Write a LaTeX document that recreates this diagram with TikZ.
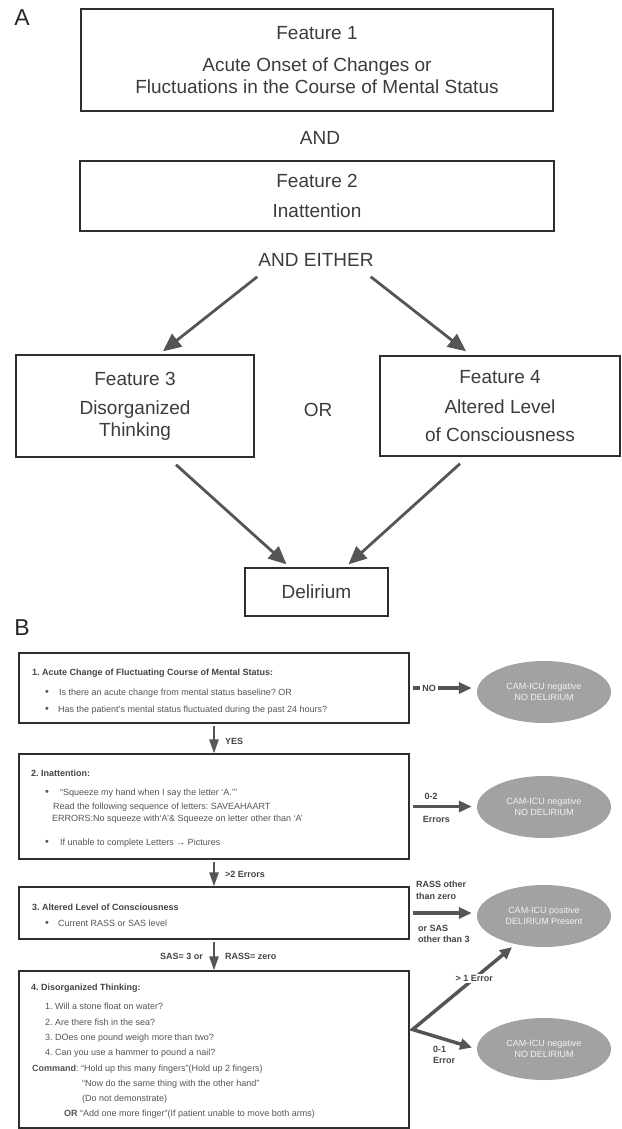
\documentclass[tikz,border=0pt]{standalone}
\usepackage{fontspec}
\setmainfont{Liberation Sans}
\usetikzlibrary{arrows.meta,shapes.geometric,calc}
\definecolor{txtA}{HTML}{3C3C3C}
\definecolor{txtB}{HTML}{555555}
\definecolor{txtBold}{HTML}{454545}
\definecolor{arr}{HTML}{555555}
\definecolor{boxc}{HTML}{2E2E2E}
\definecolor{ellf}{HTML}{A2A2A2}
\definecolor{ellt}{HTML}{F2F2F2}
\frenchspacing
\begin{document}
\begin{tikzpicture}[x=1pt,y=-1pt,
  panel/.style={inner sep=0pt, text=black!85, font=\fontsize{23}{26}\selectfont},
  boxA/.style={draw=boxc, line width=1.4pt, rectangle, align=center, text=txtA,
    font=\fontsize{19}{22}\selectfont, inner sep=0pt},
  plainA/.style={inner sep=0pt, text=txtA, font=\fontsize{19}{22}\selectfont},
  bigarrow/.style={draw=arr, line width=2.8pt, -{Triangle[length=18pt,width=16pt]}},
  boxB/.style={draw=boxc, line width=1.1pt, rectangle, minimum width=390pt, inner sep=0pt},
  bt/.style={anchor=base west, inner sep=0pt, text=txtB, font=\fontsize{9}{11}\selectfont},
  btb/.style={anchor=base west, inner sep=0pt, text=txtBold, font=\fontsize{9}{11}\selectfont\bfseries},
  bul/.style={inner sep=0pt, text=txtB, font=\fontsize{11}{11}\selectfont},
  ell/.style={ellipse, fill=ellf, minimum width=134pt, minimum height=62pt, inner sep=0pt,
    text=ellt, align=center, font=\fontsize{9}{10.7}\selectfont},
  lbl/.style={text=txtBold, font=\fontsize{9}{11.5}\selectfont\bfseries, inner sep=1pt},
  harrow/.style={draw=arr, line width=3.5pt, -{Triangle[length=13pt,width=11pt]}},
  varrow/.style={draw=arr, line width=2.2pt, -{Triangle[length=14pt,width=9pt]}},
  barrow/.style={draw=arr, line width=3.5pt, line join=miter,
    {Triangle[length=12pt,width=11pt]}-{Triangle[length=12pt,width=11pt]}}
]
\fill[white] (0,0) rectangle (621,1129);
\useasboundingbox (0,0) rectangle (621,1129);

% ---------------- Panel A ----------------
\node[panel] (lA) at (22,18) {A};
\node[boxA, minimum width=472pt, minimum height=102pt] (f1) at (317,60)
  {Feature 1\\[10pt]Acute Onset of Changes or\\Fluctuations in the Course of Mental Status};
\node[plainA] (and) at (320,138) {AND};
\node[boxA, minimum width=474pt, minimum height=70pt] (f2) at (317,196)
  {Feature 2\\[8pt]Inattention};
\node[plainA] (ae) at (316,260) {AND EITHER};
\node[boxA, minimum width=238pt, minimum height=102pt] (f3) at (135,406)
  {Feature 3\\[7pt]Disorganized\\Thinking};
\node[plainA] (or) at (318,410) {OR};
\node[boxA, minimum width=240pt, minimum height=100pt] (f4) at (500,406)
  {Feature 4\\[8pt]Altered Level\\[6pt]of Consciousness};
\node[boxA, minimum width=143pt, minimum height=48pt] (del) at (316.5,592) {Delirium};

\draw[bigarrow] ([xshift=-1pt,yshift=-10pt]ae.south west) -- ([xshift=28pt,yshift=3pt]f3.north);
\draw[bigarrow] ([xshift=-3pt,yshift=-10pt]ae.south east) -- ([xshift=-34pt,yshift=4pt]f4.north);
\draw[bigarrow] ([xshift=41pt,yshift=-7pt]f3.south) -- ([xshift=-30pt,yshift=3pt]del.north);
\draw[bigarrow] ([xshift=-40pt,yshift=-7pt]f4.south) -- ([xshift=32pt,yshift=3pt]del.north);

% ---------------- Panel B ----------------
\node[panel] (lB) at (22,628) {B};

\node[boxB, minimum height=70pt] (b1) at (214,688) {};
\node[boxB, minimum height=105pt] (b2) at (214,806.5) {};
\node[boxB, minimum height=52pt] (b3) at (214,913) {};
\node[boxB, minimum height=157pt] (b4) at (214,1049.5) {};

\node[ell] (e1) at (544,692) {CAM-ICU negative\\NO DELIRIUM};
\node[ell] (e2) at (544,807) {CAM-ICU negative\\NO DELIRIUM};
\node[ell] (e3) at (544,916) {CAM-ICU positive\\DELIRIUM Present};
\node[ell] (e4) at (544,1049) {CAM-ICU negative\\NO DELIRIUM};

% box 1 text
\node[btb] (t1) at (32,675.3) {1. Acute Change of Fluctuating Course of Mental Status:};
\node[bul] (u11) at (47,693) {•};
\node[bt] (t11) at (59,695.3) {Is there an acute change from mental status baseline? OR};
\node[bul] (u12) at (47,710) {•};
\node[bt] (t12) at (58,712.3) {Has the patient’s mental status fluctuated during the past 24 hours?};

% box 2 text
\node[btb] (t2) at (31,776.3) {2. Inattention:};
\node[bul] (u21) at (47,793) {•};
\node[bt] (t21) at (60,795.3) {“Squeeze my hand when I say the letter ‘A.’”};
\node[bt] (t22) at (53,809.3) {Read the following sequence of letters: SAVEAHAART};
\node[bt] (t23) at (52,821.3) {ERRORS:No squeeze with‘A’\& Squeeze on letter other than ‘A’};
\node[bul] (u24) at (47,843) {•};
\node[bt] (t24) at (60,845.3) {If unable to complete Letters → Pictures};

% box 3 text
\node[btb] (t3) at (32,910.3) {3. Altered Level of Consciousness};
\node[bul] (u31) at (47,924) {•};
\node[bt] (t31) at (58,926.3) {Current RASS or SAS level};

% box 4 text
\node[btb] (t4) at (31,990.3) {4. Disorganized Thinking:};
\node[bt] (t41) at (45,1009.3) {1. Will a stone float on water?};
\node[bt] (t42) at (45,1025) {2. Are there fish in the sea?};
\node[bt] (t43) at (45,1040) {3. DOes one pound weigh more than two?};
\node[bt] (t44) at (45,1055) {4. Can you use a hammer to pound a nail?};
\node[bt] (t45) at (32,1071.3) {\textbf{Command}: “Hold up this many fingers”(Hold up 2 fingers)};
\node[bt] (t46) at (82,1086.3) {“Now do the same thing with the other hand”};
\node[bt] (t47) at (82,1101.3) {(Do not demonstrate)};
\node[bt] (t48) at (64,1116.3) {\textbf{OR} “Add one more finger”(If patient unable to move both arms)};

% vertical arrows
\draw[varrow, shorten <=2pt] (b1.south) -- node[lbl, right=9pt, pos=0.6] (lyes) {YES} (b2.north);
\draw[varrow, shorten <=2pt] (b2.south) -- node[lbl, right=9pt, pos=0.57] (lerr) {>2 Errors} (b3.north);
\draw[varrow, shorten <=2pt] (b3.south) -- node[lbl, left=9pt, pos=0.56] (lsas3) {SAS= 3 or}
  node[lbl, right=9pt, pos=0.56] (lrz) {RASS= zero} (b4.north);

% horizontal arrows
\draw[harrow, shorten <=3pt, shorten >=5pt] (b1.east) --
  node[lbl, fill=white, pos=0.29, inner sep=2pt] (lno) {NO} (b1.east -| e1.west);
\draw[harrow, shorten <=3pt, shorten >=5pt] (b2.east) --
  node[lbl, above=4pt, pos=0.32] (l02) {0-2}
  node[lbl, below=7pt, pos=0.4] (lerrs) {Errors} (b2.east -| e2.west);
\draw[harrow, shorten <=3pt, shorten >=5pt] (b3.east) --
  node[lbl, above=11pt, pos=0.47, align=left] (lrass) {RASS other\\than zero}
  node[lbl, below=9pt, pos=0.51, align=left] (lorsas) {or SAS\\other than 3} (b3.east -| e3.west);

% branch arrows
\coordinate (br) at ([xshift=3pt,yshift=20pt]b4.east);
\draw[barrow, shorten >=5pt] ([xshift=-32pt]e3.south) --
  node[lbl, fill=white, pos=0.38] (lgt1) {> 1 Error} (br) -- (e4.west);
\node[lbl, align=left, anchor=north west] (l01) at (432,1045) {0-1\\Error};
\end{tikzpicture}
\end{document}
